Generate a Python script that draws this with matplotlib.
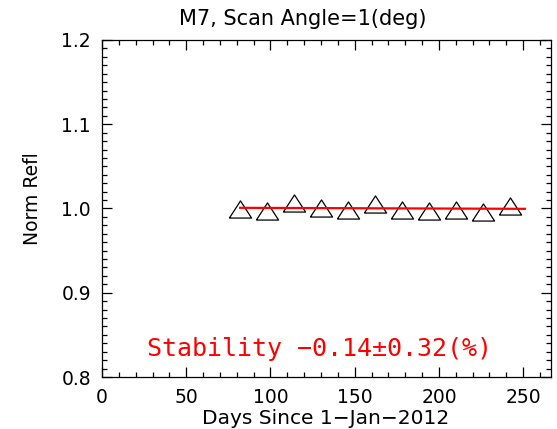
import matplotlib
matplotlib.use('Agg')
import matplotlib.pyplot as plt

# days since 1-Jan-2012 and normalised reflectance
days = [82, 98, 114, 130, 146, 162, 178, 194, 210, 226, 242]
norm_refl = [0.9990, 0.9966, 1.0068, 1.0010, 0.9980, 1.0050, 0.9980, 0.9970, 0.9987, 0.9960, 1.0026]

# linear fit line end points
fit_days = [82, 251]
fit_vals = [1.0008, 0.9996]

title = 'M7, Scan Angle=1(deg)'
stab_text = 'Stability \u22120.14\u00b10.32(%)'

plt.rcParams['font.family'] = 'DejaVu Sans'
fig = plt.figure(figsize=(5.57, 4.29), dpi=100)
ax = fig.add_axes([0.1831, 0.1212, 0.9892 - 0.1831, 0.9068 - 0.1212])

tri = [(-1, -0.77), (0, 0.77), (1, -0.77), (-1, -0.77)]
ax.plot(days, norm_refl, linestyle='none', marker=tri, ms=16,
        mfc='none', mec='black', mew=0.9)
ax.plot(fit_days, fit_vals, color='red', lw=1.6)

ax.set_xlim(0, 266.5)
ax.set_ylim(0.8, 1.2)
ax.set_xticks([0, 50, 100, 150, 200, 250])
ax.set_xticks(range(0, 270, 10), minor=True)
ax.set_yticks([0.8, 0.9, 1.0, 1.1, 1.2])
ax.set_yticks([0.8 + 0.01 * i for i in range(41)], minor=True)
ax.set_yticklabels(['0.8', '0.9', '1.0', '1.1', '1.2'])

ax.tick_params(which='both', direction='in', top=True, right=True,
               labelsize=13.5, width=0.9)
ax.tick_params(which='major', length=7.5, pad=8)
ax.tick_params(which='minor', length=3.5)
for s in ax.spines.values():
    s.set_linewidth(0.9)

ax.text(26.5, 0.833, stab_text, color='red', fontsize=18, va='center', ha='left',
        family='DejaVu Sans Mono')

fig.text(303 / 557, 1 - 19 / 429, title, ha='center', va='center', fontsize=15)
fig.text(326 / 557, 1 - 419 / 429, 'Days Since 1\u2212Jan\u22122012', ha='center',
         va='center', fontsize=14.5)
fig.text(33 / 557, 1 - 199 / 429, 'Norm Refl', ha='center', va='center',
         rotation=90, fontsize=13.5)

fig.savefig('out.png', dpi=100)
